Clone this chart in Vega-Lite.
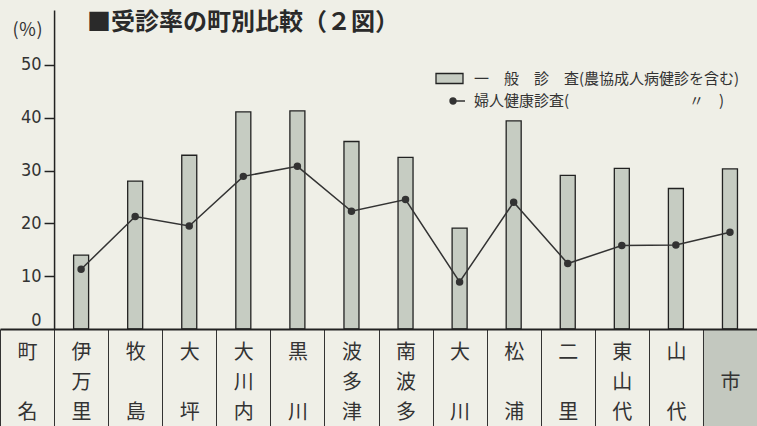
{
  "$schema": "https://vega.github.io/schema/vega-lite/v6.json",
  "width": 757,
  "height": 319,
  "autosize": "none",
  "padding": {"left": 0, "top": 10, "right": 0, "bottom": 97},
  "background": "#efefe7",
  "config": {"view": {"stroke": null}, "font": "Noto Sans CJK JP"},
  "title": {"text": "■受診率の町別比較（２図）", "anchor": "start", "frame": "group", "orient": "top", "offset": 0, "dx": 87, "dy": 37, "baseline": "middle", "fontSize": 24, "fontWeight": "bold", "color": "#2a2a2a", "font": "Noto Sans CJK JP"},
  "data": {"values": [
    {"town": "伊万里", "general": 14.0, "women": 11.3},
    {"town": "牧島", "general": 28.0, "women": 21.3},
    {"town": "大坪", "general": 32.9, "women": 19.5},
    {"town": "大川内", "general": 41.1, "women": 28.9},
    {"town": "黒川", "general": 41.3, "women": 30.8},
    {"town": "波多津", "general": 35.5, "women": 22.3},
    {"town": "南波多", "general": 32.5, "women": 24.5},
    {"town": "大川", "general": 19.1, "women": 8.9},
    {"town": "松浦", "general": 39.4, "women": 24.0},
    {"town": "二里", "general": 29.1, "women": 12.4},
    {"town": "東山代", "general": 30.4, "women": 15.8},
    {"town": "山代", "general": 26.6, "women": 15.9},
    {"town": "市", "general": 30.3, "women": 18.3}
  ]},
  "encoding": {
    "x": {
      "field": "town", "type": "nominal", "sort": null,
      "scale": {"domain": ["町名", "伊万里", "牧島", "大坪", "大川内", "黒川", "波多津", "南波多", "大川", "松浦", "二里", "東山代", "山代", "市"], "paddingInner": 0, "paddingOuter": 0},
      "axis": {
        "title": null, "orient": "bottom", "tickBand": "extent", "ticks": true, "tickSize": 97, "tickColor": "#333", "tickWidth": 1,
        "domain": true, "domainColor": "#222", "domainWidth": 2,
        "labelExpr": "length(datum.label)==3 ? [substring(datum.label,0,1), substring(datum.label,1,2), substring(datum.label,2,3)] : (length(datum.label)==2 ? [substring(datum.label,0,1), '⠀', substring(datum.label,1,2)] : ['⠀', datum.label])",
        "labelAngle": 0, "labelFontSize": 20, "labelLineHeight": 30, "labelBaseline": "top", "labelPadding": -84, "labelColor": "#333", "labelFont": "Noto Sans CJK JP", "labelAlign": "center", "zindex": 1
      }
    }
  },
  "layer": [
    {
      "transform": [{"filter": "datum.town == '市'"}],
      "mark": {"type": "rect", "color": "#c3c8bf"},
      "encoding": {
        "y": {"datum": 0, "type": "quantitative", "scale": {"domain": [0, 60.4], "nice": false}},
        "y2": {"datum": -18.4}
      }
    },
    {
      "mark": {"type": "bar", "size": 15, "stroke": "#222", "strokeWidth": 1.3},
      "encoding": {
        "y": {
          "field": "general", "type": "quantitative", "scale": {"domain": [0, 60.4], "nice": false},
          "axis": {
            "title": "(％)", "titleAngle": 0, "titleX": -27, "titleY": 20, "titleAlign": "center", "titleBaseline": "middle", "titleFontSize": 18, "titleFontWeight": "normal", "titleColor": "#333",
            "offset": -54.07, "values": [0, 10, 20, 30, 40, 50], "tickSize": 10, "tickColor": "#222", "tickWidth": 1.5, "domainColor": "#222", "domainWidth": 1.5,
            "labelFontSize": 18, "labelPadding": 3, "labelColor": "#333", "labelFont": "Liberation Sans Narrow, DejaVu Sans Condensed, Liberation Sans",
            "labelBaseline": {"condition": {"test": "datum.value == 0", "value": "bottom"}, "value": "middle"},
            "tickOpacity": {"condition": {"test": "datum.value == 0", "value": 0}, "value": 1},
            "grid": false
          }
        },
        "fill": {
          "datum": "一　般　診　査(農協成人病健診を含む)", "type": "nominal",
          "scale": {"range": ["#c6ccc2"]},
          "legend": {"orient": "none", "legendX": 435, "legendY": 54, "title": null, "symbolType": "M-1,-0.37 L1,-0.37 L1,0.37 L-1,0.37 Z", "symbolSize": 729, "symbolStrokeColor": "#222", "symbolStrokeWidth": 1.3, "labelFontSize": 15, "labelOffset": 10, "labelLimit": 400, "labelColor": "#333", "padding": 0}
        }
      }
    },
    {
      "mark": {"type": "line", "strokeWidth": 1.5, "point": {"filled": true, "size": 30, "color": "#333"}},
      "encoding": {
        "y": {"field": "women", "type": "quantitative", "scale": {"domain": [0, 60.4], "nice": false}},
        "stroke": {
          "datum": "婦人健康診査(　　　　　　　　〃　)", "type": "nominal",
          "scale": {"range": ["#333"]},
          "legend": {"orient": "none", "legendX": 446, "legendY": 81, "title": null, "symbolType": "M-0.66,0 A0.33,0.33 0 1,0 0,0 A0.33,0.33 0 1,0 -0.66,0 Z M-0.33,0 L1,0", "symbolSize": 324, "symbolStrokeWidth": 1.5, "symbolFillColor": "#333", "labelFontSize": 15, "labelOffset": 8, "labelLimit": 400, "labelColor": "#333", "padding": 0}
        }
      }
    }
  ]
}
